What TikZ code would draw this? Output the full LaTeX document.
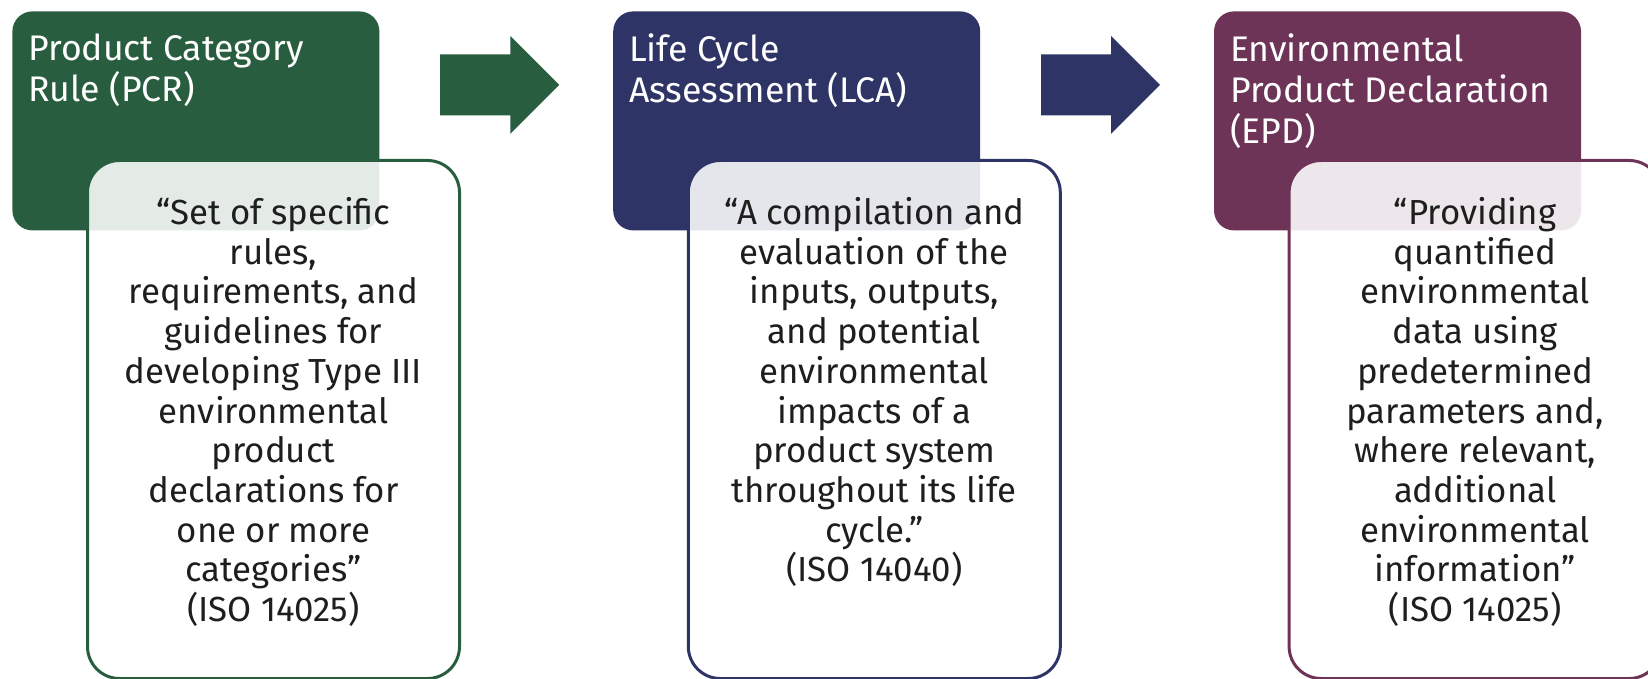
\documentclass[tikz,border=0pt]{standalone}
\usepackage{fontspec}
\setmainfont{Fira Sans}
\usetikzlibrary{shapes.arrows, positioning}
\definecolor{pcrgreen}{HTML}{285E3F}
\definecolor{lcanavy}{HTML}{2E3566}
\definecolor{epdplum}{HTML}{6D3458}
\definecolor{quotegray}{HTML}{1E1E1E}

\begin{document}
\begin{tikzpicture}[x=0.5pt, y=-0.5pt, node distance=116.5pt]
  % Define styles
  \tikzstyle{stage} = [rectangle, rounded corners=10pt, minimum width=183.5pt, minimum height=109.5pt, inner sep=0pt]
  \tikzstyle{stagetitle} = [anchor=north west, inner sep=0pt, align=left, text=white, font=\fontsize{17.8}{20.5}\selectfont]
  \tikzstyle{quotebox} = [rectangle, rounded corners=16pt, draw, line width=1.5pt, fill=white, fill opacity=0.88, minimum width=186pt, minimum height=259pt, anchor=north west, inner sep=0pt]
  \tikzstyle{quotetext} = [anchor=north, inner sep=0pt, align=center, text=quotegray, font=\fontsize{17.4}{19.85}\selectfont]
  \tikzstyle{flowarrow} = [single arrow, single arrow head extend=9.25pt, inner xsep=0pt, inner ysep=15pt, minimum height=59.5pt, anchor=west]

  \useasboundingbox (0,0) rectangle (1648,679);

  % Place nodes
  \node [stage, fill=pcrgreen, anchor=north west] (pcr) at (12,11) {};
  \node [stage, fill=lcanavy, right=of pcr] (lca) {};
  \node [stage, fill=epdplum, right=of lca] (epd) {};

  \node [stagetitle] (pcrTitle) at ([xshift=8pt, yshift=-11pt]pcr.north west) {Product Category\\Rule (PCR)};
  \node [stagetitle] (lcaTitle) at ([xshift=8pt, yshift=-11pt]lca.north west) {Life Cycle\\Assessment (LCA)};
  \node [stagetitle] (epdTitle) at ([xshift=8pt, yshift=-11pt]epd.north west) {Environmental\\Product Declaration\\(EPD)};

  \node [flowarrow, fill=pcrgreen] (pcrToLca) at ([xshift=30pt, yshift=18pt]pcr.east) {};
  \node [flowarrow, fill=lcanavy] (lcaToEpd) at ([xshift=30pt, yshift=18pt]lca.east) {};

  \node [quotebox, draw=pcrgreen] (pcrQuote) at ([xshift=37pt, yshift=-74pt]pcr.north west) {};
  \node [quotebox, draw=lcanavy] (lcaQuote) at ([xshift=37pt, yshift=-74pt]lca.north west) {};
  \node [quotebox, draw=epdplum] (epdQuote) at ([xshift=37pt, yshift=-74pt]epd.north west) {};

  \node [quotetext] (pcrText) at ([yshift=-19pt]pcrQuote.north) {``Set of specific\\rules,\\requirements, and\\guidelines for\\developing Type III\\environmental\\product\\declarations for\\one or more\\categories''\\(ISO 14025)};
  \node [quotetext] (lcaText) at ([yshift=-19pt]lcaQuote.north) {``A compilation and\\evaluation of the\\inputs, outputs,\\and potential\\environmental\\impacts of a\\product system\\throughout its life\\cycle.''\\(ISO 14040)};
  \node [quotetext] (epdText) at ([yshift=-19pt]epdQuote.north) {``Providing\\quantified\\environmental\\data using\\predetermined\\parameters and,\\where relevant,\\additional\\environmental\\information''\\(ISO 14025)};
\end{tikzpicture}
\end{document}
